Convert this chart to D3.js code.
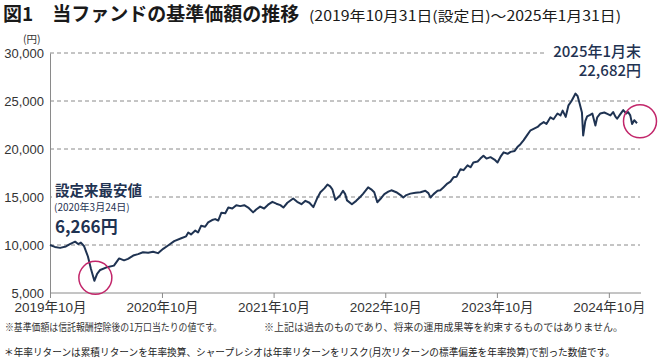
<!DOCTYPE html>
<html><head><meta charset="utf-8">
<script src="https://cdn.jsdelivr.net/npm/d3@7/dist/d3.min.js"></script>
<style>
html,body{margin:0;padding:0;background:#fff;}
svg{display:block;}
</style></head>
<body>
<svg id="chart" width="660" height="364"></svg>
<script>
// ---- data ----
const dates = ["2019-10-31","2019-11-16","2019-12-03","2019-12-22","2020-01-04","2020-01-21","2020-01-31","2020-02-09","2020-02-19","2020-03-03","2020-03-13","2020-03-24","2020-04-02","2020-04-12","2020-05-01","2020-05-27","2020-06-13","2020-06-29","2020-07-12","2020-07-29","2020-08-14","2020-08-30","2020-09-16","2020-10-02","2020-10-18","2020-11-04","2020-11-20","2020-12-10","2021-01-02","2021-01-18","2021-01-25","2021-02-03","2021-02-17","2021-02-26","2021-03-08","2021-03-21","2021-03-31","2021-04-13","2021-04-23","2021-05-03","2021-05-13","2021-05-26","2021-06-05","2021-06-18","2021-07-01","2021-07-14","2021-07-27","2021-08-09","2021-08-25","2021-09-04","2021-09-17","2021-09-30","2021-10-13","2021-10-27","2021-11-09","2021-11-22","2021-12-02","2021-12-15","2022-01-03","2022-01-16","2022-01-30","2022-02-12","2022-02-25","2022-03-10","2022-03-23","2022-04-02","2022-04-15","2022-04-25","2022-05-04","2022-05-11","2022-05-21","2022-05-31","2022-06-06","2022-06-15","2022-06-22","2022-06-28","2022-07-14","2022-07-28","2022-08-10","2022-08-20","2022-09-05","2022-09-15","2022-09-25","2022-10-05","2022-10-18","2022-10-28","2022-11-10","2022-11-20","2022-12-06","2022-12-20","2022-12-29","2023-01-08","2023-01-21","2023-02-07","2023-02-23","2023-03-11","2023-03-21","2023-03-28","2023-04-07","2023-04-20","2023-04-29","2023-05-09","2023-05-22","2023-06-01","2023-06-11","2023-06-21","2023-07-04","2023-07-14","2023-07-27","2023-08-06","2023-08-15","2023-08-29","2023-09-07","2023-09-17","2023-09-27","2023-10-10","2023-10-23","2023-11-02","2023-11-12","2023-11-22","2023-12-05","2023-12-15","2023-12-28","2024-01-06","2024-01-16","2024-01-26","2024-02-08","2024-02-18","2024-02-28","2024-03-12","2024-03-22","2024-04-01","2024-04-10","2024-04-23","2024-05-03","2024-05-16","2024-05-26","2024-06-02","2024-06-12","2024-06-21","2024-07-01","2024-07-14","2024-07-21","2024-07-27","2024-08-04","2024-08-08","2024-08-15","2024-08-21","2024-08-31","2024-09-07","2024-09-17","2024-09-23","2024-10-03","2024-10-16","2024-10-26","2024-11-05","2024-11-14","2024-11-21","2024-11-27","2024-12-07","2024-12-17","2024-12-27","2025-01-02","2025-01-09","2025-01-15","2025-01-22","2025-01-31"];
const navValues = [10000,9800,9700,9850,10100,10350,10100,10250,9900,8800,7500,6266,7000,7400,7650,7850,8600,8400,8550,8900,9050,9250,9200,9300,9150,9600,9950,10400,10700,10900,11300,11100,11500,11300,12000,11900,12350,12600,12700,12550,13350,13300,13900,13800,14150,14050,14150,13900,13400,13700,14000,13800,14200,14500,14300,14150,13900,14400,14850,14500,14250,14600,14400,13950,14900,15500,15900,16300,16100,15800,14700,15000,15200,15650,15300,14650,14250,14600,15000,15350,16000,15800,15500,14450,14900,15300,15550,15700,15500,15200,14950,15200,15350,15450,15500,15650,15400,14950,15300,15650,15700,16000,16400,16600,17050,17100,17900,17800,18300,18100,18600,18700,19000,19300,19000,19150,18900,18600,19200,19650,19500,19700,19800,20200,20500,20900,21500,21950,22100,22300,22600,22800,22600,23300,23100,23700,23500,24000,23350,24550,25000,25780,25500,24800,23800,21400,22900,23400,23550,23700,22450,23300,23700,23800,23650,23500,23850,23400,23150,23600,24050,23700,23850,23500,22600,23000,22682];
const yTicks = [5000,10000,15000,20000,25000,30000];
const xTickDates = ["2019-10-31","2020-10-31","2021-10-31","2022-10-31","2023-10-31","2024-10-31"];
const xTickLabels = ["2019年10月","2020年10月","2021年10月","2022年10月","2023年10月","2024年10月"];
const titleMain = "図1　当ファンドの基準価額の推移";
const titleSub = "(2019年10月31日(設定日)～2025年1月31日)";
const lowLabel = ["設定来最安値","(2020年3月24日)","6,266円"];
const lowDate = "2020-03-24", lowValue = 6266;
const endLabel = ["2025年1月末","22,682円"];
const notes = ["※基準価額は信託報酬控除後の1万口当たりの値です。","※上記は過去のものであり、将来の運用成果等を約束するものではありません。","＊年率リターンは累積リターンを年率換算、シャープレシオは年率リターンをリスク(月次リターンの標準偏差を年率換算)で割った数値です。"];

// ---- drawing ----
const parse = d3.timeParse("%Y-%m-%d");
const data = dates.map((d,i)=>({date:parse(d), value:navValues[i]}));
const svg = d3.select("#chart");
const JP = "'Noto Sans CJK JP','Noto Sans',sans-serif";
const LAT = "'Liberation Sans','Noto Sans CJK JP',sans-serif";
const navy = "#1f3352";
const pink = "#c2266a";

const x = d3.scaleTime().domain([parse("2019-10-31"), parse("2025-01-31")]).range([50, 637]);
const y = d3.scaleLinear().domain([5000, 30000]).range([293, 53]);

// grid
svg.append("g").selectAll("line").data(yTicks.filter(v=>v>5000)).join("line")
  .attr("x1",50).attr("x2",640).attr("y1",d=>y(d)).attr("y2",d=>y(d))
  .attr("stroke","#8a8a8a").attr("stroke-width",1).attr("stroke-dasharray","4,3");

// y axis
const yAxis = svg.append("g").attr("transform","translate(50,0)")
  .call(d3.axisLeft(y).tickValues(yTicks).tickSize(0).tickPadding(6).tickFormat(d3.format(",")));
yAxis.select(".domain").attr("stroke","#8a8a8a");
yAxis.selectAll("text").attr("font-family",LAT).attr("font-size",13).attr("fill","#333").attr("dy","0.35em");

// x axis
const xAxis = svg.append("g").attr("transform","translate(0,293)")
  .call(d3.axisBottom(x).tickValues(xTickDates.map(parse)).tickSize(5).tickPadding(4)
    .tickFormat((d,i)=>xTickLabels[i]));
xAxis.select(".domain").attr("stroke","#8a8a8a").attr("d","M50,0H641");
xAxis.selectAll(".tick line").attr("stroke","#8a8a8a");
xAxis.selectAll("text").attr("font-family",LAT).attr("font-size",13.5).attr("fill","#333");

// white backgrounds for annotations (break gridlines)
svg.append("rect").attr("x",52).attr("y",183).attr("width",97).attr("height",52).attr("fill","#fff");
svg.append("rect").attr("x",544).attr("y",42).attr("width",110).attr("height",36).attr("fill","#fff");

// line
svg.append("path").datum(data)
  .attr("d", d3.line().x(d=>x(d.date)).y(d=>y(d.value)))
  .attr("fill","none").attr("stroke",navy).attr("stroke-width",2).attr("stroke-linejoin","round");

// circles
svg.append("circle").attr("cx",x(parse(lowDate))+1).attr("cy",y(lowValue)-3).attr("r",16.5)
  .attr("fill","none").attr("stroke",pink).attr("stroke-width",1.5);
const last = data[data.length-1];
svg.append("circle").attr("cx",x(last.date)+3).attr("cy",y(last.value)-2).attr("r",16.5)
  .attr("fill","none").attr("stroke",pink).attr("stroke-width",1.5);

// annotations
svg.append("text").attr("x",55).attr("y",196).text(lowLabel[0])
  .attr("font-family",JP).attr("font-weight",700).attr("font-size",14.5).attr("fill",navy);
svg.append("text").attr("x",54).attr("y",211).text(lowLabel[1])
  .attr("font-family",JP).attr("font-size",10).attr("fill",navy);
svg.append("text").attr("x",55).attr("y",233).text(lowLabel[2])
  .attr("font-family",JP).attr("font-weight",700).attr("font-size",17).attr("fill",navy);
svg.append("text").attr("x",641).attr("y",57).attr("text-anchor","end").text(endLabel[0])
  .attr("font-family",JP).attr("font-weight",500).attr("font-size",15).attr("fill",navy);
svg.append("text").attr("x",641).attr("y",76).attr("text-anchor","end").text(endLabel[1])
  .attr("font-family",JP).attr("font-weight",500).attr("font-size",15).attr("fill",navy);

// title
svg.append("text").attr("x",3).attr("y",21).text(titleMain)
  .attr("font-family",JP).attr("font-weight",700).attr("font-size",19).attr("fill","#1a1a1a");
svg.append("text").attr("x",309).attr("y",21).text(titleSub)
  .attr("font-family",JP).attr("font-size",14).attr("fill","#1a1a1a")
  .attr("textLength",312).attr("lengthAdjust","spacingAndGlyphs");
svg.append("text").attr("x",23).attr("y",43).text("(円)")
  .attr("font-family",JP).attr("font-size",10.5).attr("fill","#333");

// notes
svg.append("text").attr("x",5).attr("y",331).text(notes[0])
  .attr("font-family",JP).attr("font-size",10).attr("fill","#333")
  .attr("textLength",217).attr("lengthAdjust","spacingAndGlyphs");
svg.append("text").attr("x",264).attr("y",331).text(notes[1])
  .attr("font-family",JP).attr("font-size",10).attr("fill","#333")
  .attr("textLength",359).attr("lengthAdjust","spacingAndGlyphs");
svg.append("text").attr("x",4).attr("y",356).text(notes[2])
  .attr("font-family",JP).attr("font-size",10).attr("fill","#222")
  .attr("textLength",611).attr("lengthAdjust","spacingAndGlyphs");
</script>
</body></html>
